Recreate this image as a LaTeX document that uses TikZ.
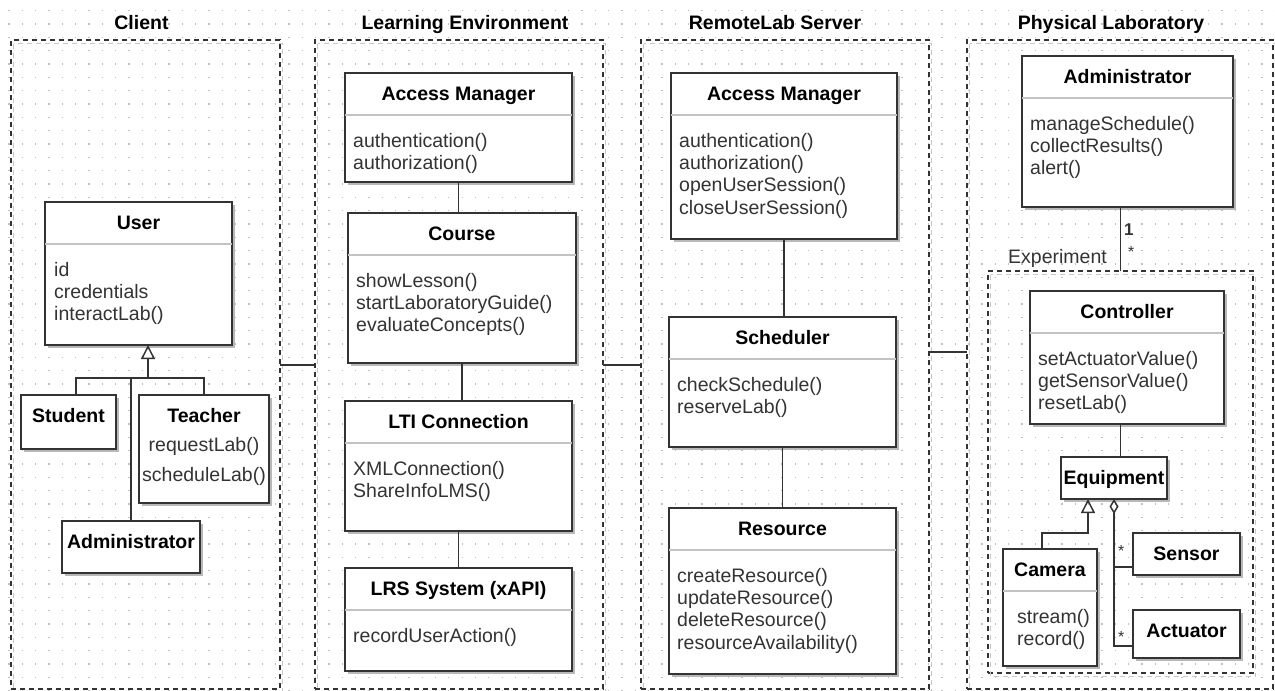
\documentclass[tikz,border=0pt]{standalone}
\usepackage{fontspec}
\setmainfont{Liberation Sans}
\usetikzlibrary{arrows.meta,shadows,positioning}

\definecolor{umlline}{RGB}{51,51,51}
\definecolor{umltext}{RGB}{51,51,51}
\definecolor{umlsep}{RGB}{195,195,195}
\definecolor{gridgray}{RGB}{192,192,192}

\tikzset{
  pane/.style={draw=umlline, line width=1.5pt, dash pattern=on 5pt off 4pt,
    anchor=north west, inner sep=0, outer sep=0},
  paneshade/.style={draw=black!22, line width=1.5pt, dash pattern=on 5pt off 4pt},
  panetitle/.style={anchor=base, inner sep=0, font=\fontsize{19.5}{22.3}\selectfont\bfseries},
  classbox/.style={draw=umlline, line width=1.8pt, fill=white, anchor=north west,
    inner sep=0, outer sep=0,
    drop shadow={shadow xshift=3pt, shadow yshift=-3pt, fill=black!28, opacity=1}},
  classtitle/.style={anchor=base, inner sep=0, font=\fontsize{19.5}{22.3}\selectfont\bfseries},
  classops/.style={anchor=north west, align=left, inner sep=0, text=umltext,
    font=\fontsize{19.5}{22.3}\selectfont},
  classsep/.style={draw=umlsep, line width=1.3pt},
  assoc/.style={draw=umlline, line width=1.5pt},
  gen/.style={assoc, -{Triangle[open, length=14pt, width=14pt, line width=1.5pt]}},
  agg/.style={assoc, {Diamond[open, length=15pt, width=9pt, line width=1.5pt]}-},
  mult/.style={anchor=base west, inner sep=0, text=umltext, font=\fontsize{16}{18}\selectfont},
  griddots/.style={draw=gridgray, line width=1.3pt, dash pattern=on 1.3pt off 12.03pt}
}

% class with title, separator and operations
\newcommand{\umlclass}[7][9]{%
  \node[classbox, minimum width=#4pt, minimum height=#5pt] (#2) at (#3) {};
  \node[classtitle] (#2-title) at ([yshift=-27pt]#2.north) {#6};
  \draw[classsep] ([yshift=-42pt]#2.north west) -- ([yshift=-42pt]#2.north east);
  \node[classops] (#2-ops) at ([xshift=#1pt,yshift=-59pt]#2.north west) {\rule{0pt}{15pt}#7};
}
% class with title only
\newcommand{\umlbox}[5]{%
  \node[classbox, minimum width=#3pt, minimum height=#4pt] (#1) at (#2) {};
  \node[classtitle] (#1-title) at ([yshift=-27pt]#1.north) {#5};
}

\begin{document}
\begin{tikzpicture}[x=1pt, y=-1pt]
\useasboundingbox (0,0) rectangle (1275,691);
\fill[white] (0,0) rectangle (1275,691);

% background grid
\foreach \gy in {10.7,24.03,...,691}
  \draw[griddots] (8.3,\gy) -- (1275,\gy);

% packages
\node[pane, minimum width=269pt, minimum height=649pt] (clientBox) at (11,40) {};
\node[pane, minimum width=288pt, minimum height=649pt] (leBox) at (315,40) {};
\node[pane, minimum width=288pt, minimum height=649pt] (rlBox) at (641,40) {};
\node[pane, minimum width=306pt, minimum height=649pt] (plBox) at (967,40) {};
\node[pane, minimum width=265pt, minimum height=402pt] (expBox) at (988,271) {};
\foreach \p in {clientBox,leBox,rlBox,plBox,expBox}
  \draw[paneshade] ([shift={(2.5pt,-3.5pt)}]\p.north west) rectangle ([shift={(2.5pt,-3.5pt)}]\p.south east);

\node[panetitle] (clientTitle) at (141.5,29) {Client};
\node[panetitle] (leTitle) at (465,29) {Learning Environment};
\node[panetitle] (rlTitle) at (775,29) {RemoteLab Server};
\node[panetitle] (plTitle) at (1111,29) {Physical Laboratory};
\node[anchor=base east, inner sep=0, text=umltext, font=\fontsize{19.5}{22.3}\selectfont] (expLabel) at (1107,263) {Experiment};

% client
\umlclass{user}{45,202}{187}{143}{User}{id\\credentials\\interactLab()}
\umlbox{student}{21,395}{95}{54}{Student}
\umlbox{teacher}{139,395}{130}{108}{Teacher}
\node[classops, anchor=north, align=center] (teacher-ops) at ([yshift=-41pt]teacher.north)
  {\rule{0pt}{15pt}requestLab()\\[7.7pt]scheduleLab()};
\umlbox{clAdmin}{62,521}{138}{52}{Administrator}

% learning environment
\umlclass[8]{leAccess}{345,73}{227}{109}{Access Manager}{authentication()\\authorization()}
\umlclass[8]{course}{348,213}{228}{150}{Course}{showLesson()\\startLaboratoryGuide()\\evaluateConcepts()}
\umlclass[8]{lti}{345,401}{227}{130}{LTI Connection}{XMLConnection()\\ShareInfoLMS()}
\umlclass[8]{lrs}{345,568}{227}{103}{LRS System (xAPI)}{recordUserAction()}

% remotelab server
\umlclass[8]{rlAccess}{671,73}{226}{166}{Access Manager}{authentication()\\authorization()\\openUserSession()\\closeUserSession()}
\umlclass[8]{scheduler}{669,317}{227}{130}{Scheduler}{checkSchedule()\\reserveLab()}
\umlclass[8]{resource}{669,508}{227}{166}{Resource}{createResource()\\updateResource()\\deleteResource()\\resourceAvailability()}

% physical laboratory
\umlclass[8]{plAdmin}{1022,56}{211}{151}{Administrator}{manageSchedule()\\collectResults()\\alert()}
\umlclass[8]{controller}{1030,291}{194}{133}{Controller}{setActuatorValue()\\getSensorValue()\\resetLab()}
\umlbox{equipment}{1061,457}{106}{42}{Equipment}
\umlclass[14]{camera}{1003,549}{94}{117}{Camera}{stream()\\record()}
\umlbox{sensor}{1133,533}{107}{42}{Sensor}
\umlbox{actuator}{1133,610}{107}{48}{Actuator}

% links
\coordinate (linkA) at (0,365);
\coordinate (linkB) at (0,352);
\draw[assoc] (clientBox.east |- linkA) -- (leBox.west |- linkA);
\draw[assoc] (leBox.east |- linkA) -- (rlBox.west |- linkA);
\draw[assoc] (rlBox.east |- linkB) -- (plBox.west |- linkB);

\coordinate (genL) at (76,378);
\coordinate (genM) at (131,378);
\coordinate (genJoin) at (148,378);
\draw[gen] (genJoin) -- (genJoin |- user.south);
\draw[assoc] (student.north -| genL) -- (genL) -- (genJoin -| teacher.north) -- (teacher.north);
\draw[assoc] (clAdmin.north -| genM) -- (genM);

\draw[assoc] (leAccess.south) -- (leAccess.south |- course.north);
\draw[assoc] (course.south) -- (course.south |- lti.north);
\draw[assoc] (lti.south) -- (lti.south |- lrs.north);
\draw[assoc] (rlAccess.south) -- (rlAccess.south |- scheduler.north);
\draw[assoc] (scheduler.south) -- (scheduler.south |- resource.north);

\draw[assoc] (expBox.north |- plAdmin.south) -- (expBox.north);
\node[mult, font=\fontsize{17}{18}\selectfont\bfseries] (multOne) at (1124,235) {1};
\node[mult] (multMany) at (1128,257) {*};
\draw[assoc] (controller.south -| expBox.north) -- (equipment.north -| expBox.north);

\coordinate (camJoin) at (1042,533);
\coordinate (eqGen) at (1088,533);
\draw[gen] (camera.north -| camJoin) -- (camJoin) -- (eqGen) -- (eqGen |- equipment.south);

\coordinate (aggS) at (1114,567);
\coordinate (aggA) at (1114,646);
\draw[agg] (aggA |- equipment.south) -- (aggA) -- (aggA -| actuator.west);
\draw[assoc] (aggS) -- (aggS -| sensor.west);
\node[mult] (multSensor) at (1118,556) {*};
\node[mult] (multActuator) at (1118,642) {*};
\end{tikzpicture}
\end{document}
